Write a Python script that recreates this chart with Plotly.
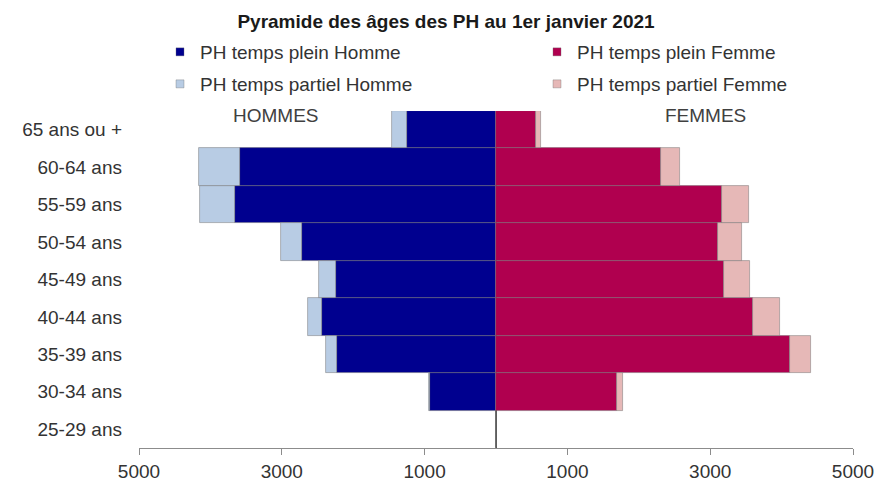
import plotly.graph_objects as go

# Data (bottom to top)
ages = ["25-29 ans", "30-34 ans", "35-39 ans", "40-44 ans", "45-49 ans",
        "50-54 ans", "55-59 ans", "60-64 ans", "65 ans ou +"]
h_plein = [0, 925, 2230, 2440, 2240, 2720, 3655, 3585, 1245]
h_partiel = [0, 8, 155, 195, 240, 295, 490, 575, 215]
f_plein = [0, 1695, 4120, 3600, 3195, 3110, 3165, 2310, 560]
f_partiel = [0, 85, 295, 380, 365, 335, 380, 265, 70]

tick_vals = [-5000, -3000, -1000, 1000, 3000, 5000]
tick_text = ["5000", "3000", "1000", "1000", "3000", "5000"]

C_HP = "#00008f"
C_HT = "#b8cce4"
C_FP = "#b0004f"
C_FT = "#e6b8b7"

FONT = "Liberation Sans, Arial, sans-serif"
W, H = 876, 481
PL, PR, PT, PB = 139, 853, 111, 448  # plot area in pixels


def px_x(p):
    return (p - PL) / (PR - PL)


def px_y(p):
    return (PB - p) / (PB - PT)


line = dict(color="rgba(110,110,110,0.6)", width=0.8)

fig = go.Figure()
fig.add_trace(go.Bar(y=ages, x=[-v for v in h_plein], orientation="h",
                     marker=dict(color=C_HP, line=line), name="PH temps plein Homme",
                     customdata=h_plein, hovertemplate="%{y}: %{customdata}<extra></extra>",
                     showlegend=False))
fig.add_trace(go.Bar(y=ages, x=[-v for v in h_partiel], orientation="h",
                     marker=dict(color=C_HT, line=line), name="PH temps partiel Homme",
                     customdata=h_partiel, hovertemplate="%{y}: %{customdata}<extra></extra>",
                     showlegend=False))
fig.add_trace(go.Bar(y=ages, x=f_plein, orientation="h",
                     marker=dict(color=C_FP, line=line), name="PH temps plein Femme",
                     hovertemplate="%{y}: %{x}<extra></extra>", showlegend=False))
fig.add_trace(go.Bar(y=ages, x=f_partiel, orientation="h",
                     marker=dict(color=C_FT, line=line), name="PH temps partiel Femme",
                     hovertemplate="%{y}: %{x}<extra></extra>", showlegend=False))

# legend entries, one legend box each for exact placement
leg_items = [("PH temps plein Homme", C_HP, "legend", 160, 52),
             ("PH temps plein Femme", C_FP, "legend2", 537, 52),
             ("PH temps partiel Homme", C_HT, "legend3", 160, 84),
             ("PH temps partiel Femme", C_FT, "legend4", 537, 84)]
leg_common = dict(orientation="h", xref="paper", yref="paper",
                  xanchor="left", yanchor="middle",
                  font=dict(family=FONT, size=19, color="#333333"),
                  bgcolor="rgba(0,0,0,0)", borderwidth=0, itemclick=False)
legends = {}
for name, col, lg, lx, ly in leg_items:
    fig.add_trace(go.Scatter(x=[None], y=[None], mode="markers", name=name,
                             marker=dict(symbol="square", size=8, color=col,
                                         line=dict(color="rgba(110,110,110,0.6)", width=0.6)),
                             legend=lg, showlegend=True, hoverinfo="skip"))
    legends[lg] = dict(x=px_x(lx), y=px_y(ly), **leg_common)

fig.update_layout(
    width=W, height=H,
    margin=dict(l=PL, r=W - PR, t=PT, b=H - PB),
    paper_bgcolor="white", plot_bgcolor="white",
    barmode="relative", bargap=0,
    title=dict(text="<b>Pyramide des âges des PH au 1er janvier 2021</b>",
               x=446 / W, xref="container", xanchor="center",
               y=1 - 21 / H, yref="container", yanchor="middle",
               font=dict(family=FONT, size=19, color="#1a1a1a")),
    xaxis=dict(range=[-5000, 5000], tickvals=tick_vals, ticktext=tick_text,
               showgrid=False, zeroline=True, zerolinecolor="#555555", zerolinewidth=1.2,
               showline=True, linecolor="#8c8c8c", linewidth=1,
               ticks="outside", ticklen=6, tickcolor="#8c8c8c", automargin=False,
               tickfont=dict(family=FONT, size=19, color="#333333")),
    yaxis=dict(categoryorder="array", categoryarray=ages, showgrid=False,
               showline=False, ticks="", ticklabelstandoff=16, automargin=False,
               tickfont=dict(family=FONT, size=19, color="#333333")),
    annotations=[
        dict(text="HOMMES", x=-3080, xref="x", y=px_y(116), yref="paper",
             showarrow=False, xanchor="center", yanchor="middle",
             font=dict(family=FONT, size=19, color="#404040")),
        dict(text="FEMMES", x=2940, xref="x", y=px_y(116), yref="paper",
             showarrow=False, xanchor="center", yanchor="middle",
             font=dict(family=FONT, size=19, color="#404040")),
    ],
    showlegend=True,
    **legends,
)

fig.write_html("out.html", config={"displayModeBar": False},
               post_script="document.body.style.margin='0';")
